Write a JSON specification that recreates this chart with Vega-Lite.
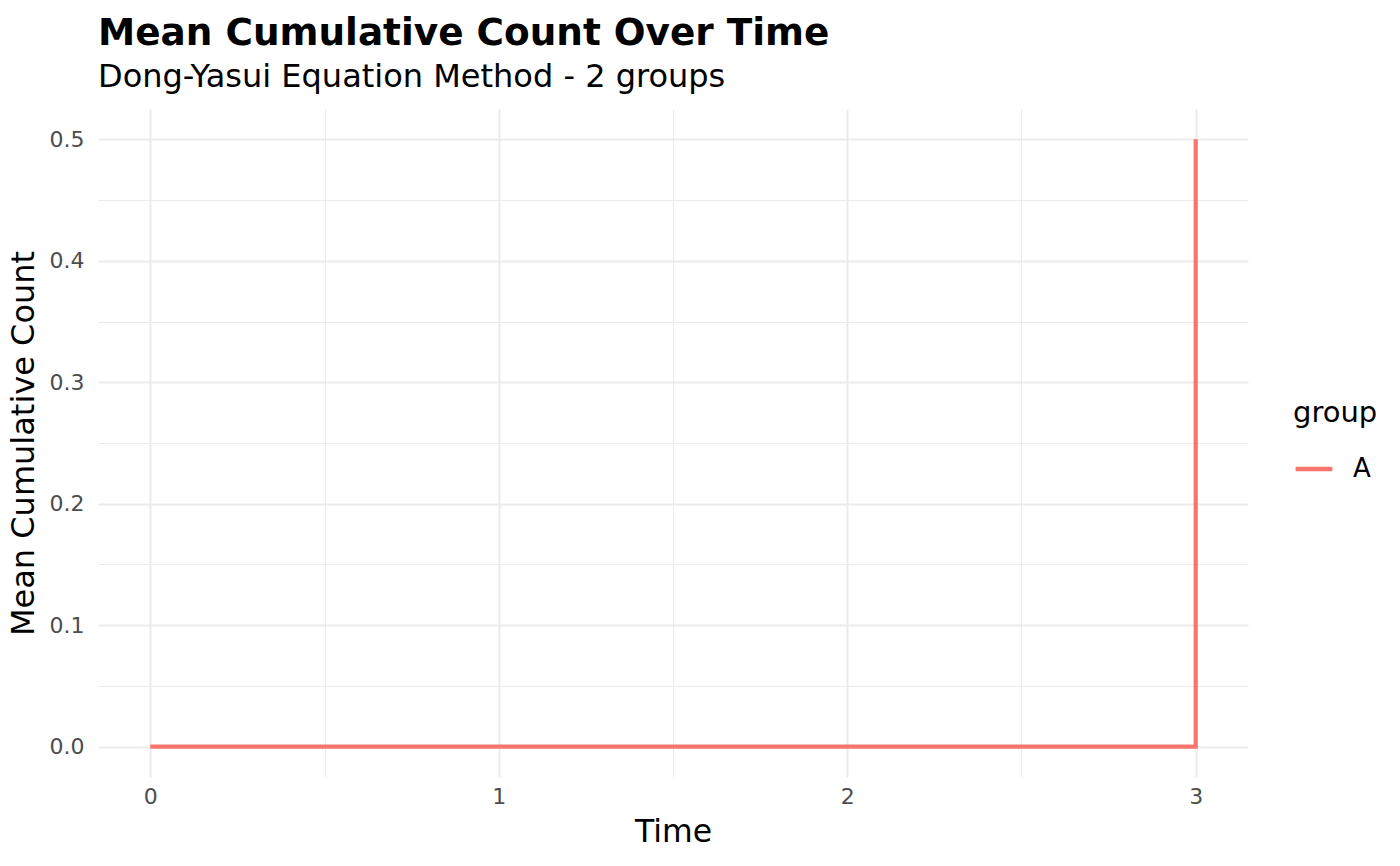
{
  "$schema": "https://vega.github.io/schema/vega-lite/v6.json",
  "width": 1150,
  "height": 668,
  "autosize": "none",
  "padding": {"left": 98, "top": 109, "right": 152, "bottom": 89},
  "background": "white",
  "title": {
    "text": "Mean Cumulative Count Over Time",
    "subtitle": "Dong-Yasui Equation Method - 2 groups",
    "anchor": "start",
    "frame": "group",
    "font": "DejaVu Sans",
    "fontSize": 37.4,
    "fontWeight": "bold",
    "color": "black",
    "subtitleFont": "DejaVu Sans",
    "subtitleFontSize": 32,
    "subtitleColor": "black",
    "subtitlePadding": 10,
    "offset": 16,
    "dx": 0
  },
  "config": {
    "view": {"stroke": null},
    "font": "DejaVu Sans"
  },
  "data": {
    "values": [
      {"time": 0, "mcc": 0, "group": "A"},
      {"time": 3, "mcc": 0.5, "group": "A"}
    ]
  },
  "mark": {"type": "line", "interpolate": "step-after", "strokeWidth": 4.2, "strokeCap": "butt"},
  "encoding": {
    "x": {
      "field": "time",
      "type": "quantitative",
      "scale": {"domain": [-0.15, 3.15], "nice": false, "zero": false},
      "axis": {
        "title": "Time",
        "titleFont": "DejaVu Sans",
        "titleFontSize": 31.5,
        "titleFontWeight": "normal",
        "titleColor": "black",
        "titlePadding": 9,
        "values": [0, 0.5, 1, 1.5, 2, 2.5, 3],
        "labelExpr": "datum.value % 1 === 0 ? format(datum.value, 'd') : ''",
        "labelFontSize": 22,
        "labelColor": "#4D4D4D",
        "labelPadding": 9,
        "domain": false,
        "ticks": false,
        "grid": true,
        "gridColor": "#EBEBEB",
        "gridWidth": {"condition": {"test": "datum.value % 1 === 0", "value": 2}, "value": 1}
      }
    },
    "y": {
      "field": "mcc",
      "type": "quantitative",
      "scale": {"domain": [-0.025, 0.525], "nice": false, "zero": false},
      "axis": {
        "title": "Mean Cumulative Count",
        "titleFont": "DejaVu Sans",
        "titleFontSize": 32,
        "titleFontWeight": "normal",
        "titleColor": "black",
        "titlePadding": 9,
        "values": [0, 0.05, 0.1, 0.15, 0.2, 0.25, 0.3, 0.35, 0.4, 0.45, 0.5],
        "labelExpr": "round(datum.value * 100) % 10 === 0 ? format(datum.value, '.1f') : ''",
        "labelFontSize": 22,
        "labelColor": "#4D4D4D",
        "labelPadding": 14,
        "domain": false,
        "ticks": false,
        "grid": true,
        "gridColor": "#EBEBEB",
        "gridWidth": {"condition": {"test": "round(datum.value * 100) % 10 === 0", "value": 2}, "value": 1}
      }
    },
    "color": {
      "field": "group",
      "type": "nominal",
      "scale": {"range": ["#F8766D"]},
      "legend": {
        "orient": "none",
        "legendX": 1195,
        "legendY": 290,
        "title": "group",
        "titleFont": "DejaVu Sans",
        "titleFontSize": 29,
        "titleFontWeight": "normal",
        "titleColor": "black",
        "titlePadding": 20,
        "labelFont": "DejaVu Sans",
        "labelFontSize": 26,
        "labelColor": "black",
        "labelOffset": 18,
        "symbolType": "stroke",
        "symbolSize": 1350,
        "symbolStrokeWidth": 4.5
      }
    }
  }
}
